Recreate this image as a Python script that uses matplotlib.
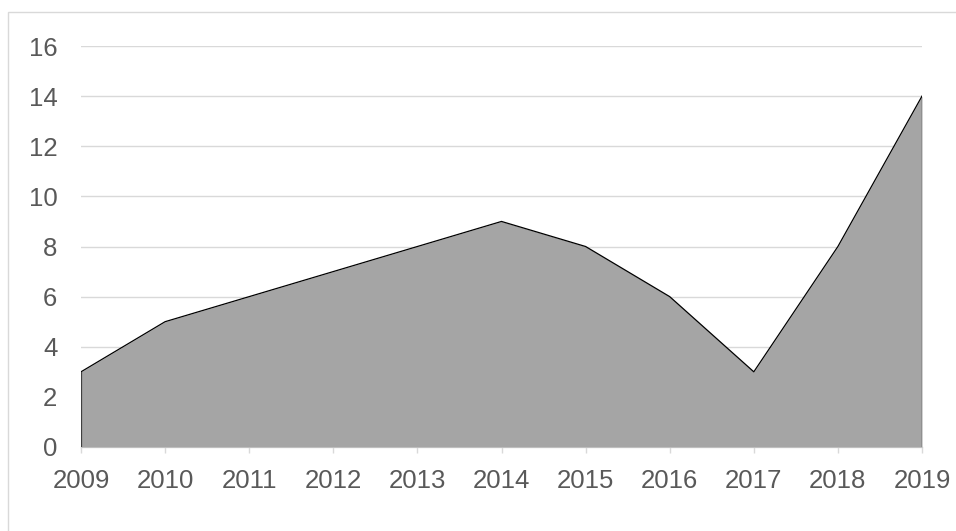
import matplotlib
matplotlib.use("Agg")
import matplotlib.pyplot as plt
from matplotlib.patches import Rectangle

years = [2009, 2010, 2011, 2012, 2013, 2014, 2015, 2016, 2017, 2018, 2019]
values = [3, 5, 6, 7, 8, 9, 8, 6, 3, 8, 14]
yticks = [0, 2, 4, 6, 8, 10, 12, 14, 16]

plt.rcParams['font.family'] = ['Liberation Sans', 'DejaVu Sans']

fig = plt.figure(figsize=(9.56, 5.31), dpi=100)
ax = fig.add_axes([81/956, 1-447/531, (922-81)/956, (447-46)/531])

ax.fill_between(years, values, 0, color='#A5A5A5', linewidth=0, zorder=2)
ax.plot(years, values, color='black', linewidth=0.9, zorder=3)
ax.plot([years[0], years[0]], [0, values[0]], color='#404040', linewidth=0.9, zorder=3)
ax.plot([years[-1], years[-1]], [0, values[-1]], color='black', linewidth=0.9, zorder=3)

ax.set_xlim(years[0], years[-1])
ax.set_ylim(0, 16)
ax.set_yticks(yticks)
ax.set_xticks(years)
ax.set_xticklabels([str(y) for y in years])
ax.grid(axis='y', color='#D9D9D9', linewidth=1.0, zorder=0)
ax.set_axisbelow(True)
for s in ['top', 'right', 'left']:
    ax.spines[s].set_visible(False)
ax.spines['bottom'].set_color('#D9D9D9')
ax.spines['bottom'].set_linewidth(1.0)
ax.spines['bottom'].set_zorder(1)
ax.tick_params(axis='y', length=0, pad=17, labelsize=18.5, labelcolor='#595959')
ax.tick_params(axis='x', length=4.5, width=1.0, color='#D9D9D9', pad=11, labelsize=18.5, labelcolor='#595959')

fig.patches.append(Rectangle((8/956, -0.1), 1.2, 1 - 12/531 + 0.1, transform=fig.transFigure,
                             fill=False, edgecolor='#D9D9D9', linewidth=1.0))

fig.savefig('out.png', dpi=100)
